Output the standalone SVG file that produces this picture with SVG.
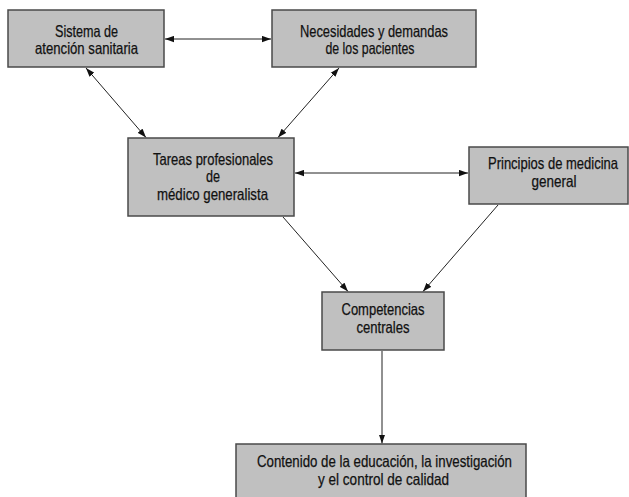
<svg xmlns="http://www.w3.org/2000/svg" width="629" height="497" viewBox="0 0 629 497">
<style>
.box{fill:#c0c0c0;stroke:#4a4a4a;stroke-width:1.5}
.t{font-family:"Liberation Sans",Arial,sans-serif;font-size:16.5px;fill:#111;stroke:#111;stroke-width:0.25;text-anchor:middle}
.c{stroke:#222;stroke-width:1;fill:none}
</style>
<defs>
<marker id="ah" viewBox="0 0 10 7" refX="10" refY="3.5" markerWidth="9" markerHeight="7" markerUnits="userSpaceOnUse" orient="auto-start-reverse">
<path d="M0,0 L10,3.5 L0,7 z" fill="#111"/>
</marker>
</defs>
<rect width="629" height="497" fill="#fff"/>
<g id="connectors">
<line class="c" x1="165" y1="39" x2="271" y2="39" marker-start="url(#ah)" marker-end="url(#ah)"/>
<line class="c" x1="86" y1="68" x2="146" y2="137.5" marker-start="url(#ah)" marker-end="url(#ah)"/>
<line class="c" x1="339" y1="68" x2="278" y2="137.5" marker-start="url(#ah)" marker-end="url(#ah)"/>
<line class="c" x1="295" y1="173" x2="468" y2="173" marker-start="url(#ah)" marker-end="url(#ah)"/>
<line class="c" x1="283" y1="217" x2="348" y2="291.5" marker-end="url(#ah)"/>
<line class="c" x1="498" y1="205" x2="423" y2="291.5" marker-end="url(#ah)"/>
<line class="c" x1="382" y1="351" x2="382" y2="443.5" marker-end="url(#ah)"/>
</g>
<g id="sistema">
<rect class="box" x="8" y="10" width="156" height="57"/>
<text class="t" x="86.5" y="36.5" textLength="63" lengthAdjust="spacingAndGlyphs">Sistema de</text>
<text class="t" x="86.5" y="53.5" textLength="103" lengthAdjust="spacingAndGlyphs">atención sanitaria</text>
</g>
<g id="necesidades">
<rect class="box" x="272" y="10" width="204" height="57"/>
<text class="t" x="374" y="36.5" textLength="148" lengthAdjust="spacingAndGlyphs">Necesidades y demandas</text>
<text class="t" x="370" y="53.5" textLength="89" lengthAdjust="spacingAndGlyphs">de los pacientes</text>
</g>
<g id="tareas">
<rect class="box" x="128" y="138" width="166" height="78"/>
<text class="t" x="213" y="164.5" textLength="120" lengthAdjust="spacingAndGlyphs">Tareas profesionales</text>
<text class="t" x="213" y="182" textLength="14" lengthAdjust="spacingAndGlyphs">de</text>
<text class="t" x="212.5" y="199.5" textLength="111" lengthAdjust="spacingAndGlyphs">médico generalista</text>
</g>
<g id="principios">
<rect class="box" x="469" y="147" width="159" height="57"/>
<text class="t" x="553" y="168.5" textLength="130" lengthAdjust="spacingAndGlyphs">Principios de medicina</text>
<text class="t" x="554" y="186.5" textLength="45" lengthAdjust="spacingAndGlyphs">general</text>
</g>
<g id="competencias">
<rect class="box" x="322" y="292" width="122" height="58"/>
<text class="t" x="383" y="315" textLength="83" lengthAdjust="spacingAndGlyphs">Competencias</text>
<text class="t" x="383" y="333" textLength="53" lengthAdjust="spacingAndGlyphs">centrales</text>
</g>
<g id="contenido">
<rect class="box" x="236" y="444" width="290" height="60"/>
<text class="t" x="384.5" y="466.5" textLength="255" lengthAdjust="spacingAndGlyphs">Contenido de la educación, la investigación</text>
<text class="t" x="383.5" y="484.5" textLength="131" lengthAdjust="spacingAndGlyphs">y el control de calidad</text>
</g>
</svg>
